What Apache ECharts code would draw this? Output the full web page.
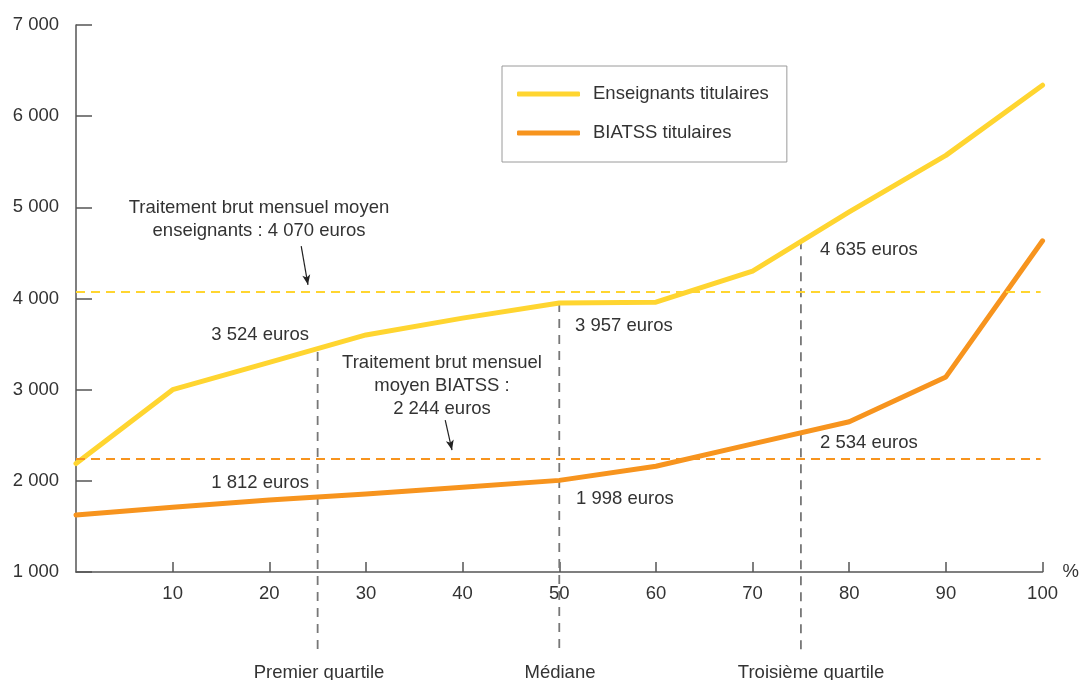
<!DOCTYPE html>
<html><head><meta charset="utf-8">
<script src="https://cdn.jsdelivr.net/npm/echarts@6/dist/echarts.min.js"></script>
<style>html,body{margin:0;padding:0;background:#fff}#c{width:1082px;height:680px}</style>
</head><body><div id="c"></div>
<script>
// ---- data ----
const percentiles = [0, 10, 20, 30, 40, 50, 60, 70, 80, 90, 100];
const enseignants = [2190, 3000, 3300, 3600, 3785, 3950, 3960, 4300, 4950, 5570, 6340];
const biatss = [1625, 1710, 1790, 1855, 1930, 2005, 2160, 2405, 2648, 3140, 4633];
const moyenEnseignants = 4070;
const moyenBiatss = 2244;
const quartileX = [25, 50, 75];
const quartileTop = [3412, 3950, 4640];
const quartileBottom = 145;
const quartileNames = ['Premier quartile', 'Médiane', 'Troisième quartile'];
const seriesNames = ['Enseignants titulaires', 'BIATSS titulaires'];

const FONT = '"Liberation Sans", Arial, Helvetica, sans-serif';
const FS = 18.5;
const TXT = '#333333';
const YEL = '#FFD530';
const ORA = '#F7941E';

function fmt(v){ return String(v).replace(/\B(?=(\d{3})+(?!\d))/g, ' '); }

const chart = echarts.init(document.getElementById('c'), null, {renderer:'canvas'});

const quartileSeries = quartileX.map((x, i) => ({
  type: 'line', name: 'q' + i, silent: true, clip: false, symbol: 'none',
  z: 1,
  lineStyle: {color: '#777777', width: 1.8, type: [9, 7]},
  data: [[x, quartileTop[i]], [x, quartileBottom]]
}));

function arrow(x1, y1, x2, y2){
  return [{coord: [x1, y1], symbol: 'none'}, {coord: [x2, y2], symbol: 'arrow', symbolSize: [6, 10]}];
}

const txt = (text, x, y, align, vAlign) => ({
  type: 'text', silent: true, z: 100,
  style: {text, x, y, textAlign: align, textVerticalAlign: vAlign || 'middle', fill: TXT,
    font: FS + 'px ' + FONT, lineHeight: 23}
});

chart.setOption({
  animation: false,
  grid: {left: 76, top: 25, right: 36, bottom: 108, containLabel: false},
  legend: {
    data: seriesNames, orient: 'vertical', left: 502, top: 66,
    borderColor: '#9a9a9a', borderWidth: 1, borderRadius: 0,
    padding: [18, 18, 19, 15], itemGap: 19,
    itemWidth: 63, itemHeight: 5, icon: 'roundRect',
    textStyle: {fontFamily: FONT, fontSize: FS, color: TXT, lineHeight: 20, padding: [0, 0, 0, 8]}
  },
  xAxis: {
    type: 'value', min: 0, max: 100, interval: 10,
    name: '%', nameLocation: 'end', nameGap: 20,
    nameTextStyle: {fontFamily: FONT, fontSize: FS, color: TXT, padding: [0, 0, 12, 0]},
    axisLine: {show: true, lineStyle: {color: '#555', width: 1.5}},
    axisTick: {show: true, inside: true, length: 10, lineStyle: {color: '#555', width: 1.5}},
    axisLabel: {fontFamily: FONT, fontSize: FS, color: TXT, margin: 12, showMinLabel: false,
      formatter: v => v === 0 ? '' : String(v)},
    splitLine: {show: false}
  },
  yAxis: {
    type: 'value', min: 1000, max: 7000, interval: 1000,
    axisLine: {show: true, lineStyle: {color: '#555', width: 1.5}},
    axisTick: {show: true, inside: true, length: 16, lineStyle: {color: '#555', width: 1.5}},
    axisLabel: {fontFamily: FONT, fontSize: FS, color: TXT, margin: 17, formatter: v => fmt(v)},
    splitLine: {show: false}
  },
  series: [
    ...quartileSeries,
    {
      type: 'line', name: seriesNames[0], symbol: 'none', z: 3,
      color: YEL,
      lineStyle: {color: YEL, width: 5, join: 'round', cap: 'round'},
      data: percentiles.map((p, i) => [p, enseignants[i]]),
      markLine: {
        silent: true, symbol: 'none', label: {show: false},
        data: [
          [{coord: [0, moyenEnseignants], symbol: 'none', lineStyle: {color: YEL, width: 1.8, type: [9, 6]}},
           {coord: [99.8, moyenEnseignants], symbol: 'none'}],
          arrow(23.3, 4575, 24.0, 4150)
        ],
        lineStyle: {color: '#222', width: 1.2, type: 'solid'}
      }
    },
    {
      type: 'line', name: seriesNames[1], symbol: 'none', z: 4,
      color: ORA,
      lineStyle: {color: ORA, width: 5, join: 'round', cap: 'round'},
      data: percentiles.map((p, i) => [p, biatss[i]]),
      markLine: {
        silent: true, symbol: 'none', label: {show: false},
        data: [
          [{coord: [0, moyenBiatss], symbol: 'none', lineStyle: {color: ORA, width: 1.8, type: [9, 6]}},
           {coord: [99.8, moyenBiatss], symbol: 'none'}],
          arrow(38.2, 2667, 38.9, 2338)
        ],
        lineStyle: {color: '#222', width: 1.2, type: 'solid'}
      }
    }
  ],
  graphic: [
    txt('Traitement brut mensuel moyen\nenseignants : 4 070 euros', 259, 196.5, 'center', 'top'),
    txt('Traitement brut mensuel\nmoyen BIATSS :\n2 244 euros', 442, 351.5, 'center', 'top'),
    txt('3 524 euros', 309, 335, 'right'),
    txt('1 812 euros', 309, 483, 'right'),
    txt('3 957 euros', 575, 326, 'left'),
    txt('1 998 euros', 576, 499, 'left'),
    txt('4 635 euros', 820, 250, 'left'),
    txt('2 534 euros', 820, 443, 'left'),
    txt(quartileNames[0], 319, 673, 'center'),
    txt(quartileNames[1], 560, 673, 'center'),
    txt(quartileNames[2], 811, 673, 'center')
  ]
});
</script></body></html>
